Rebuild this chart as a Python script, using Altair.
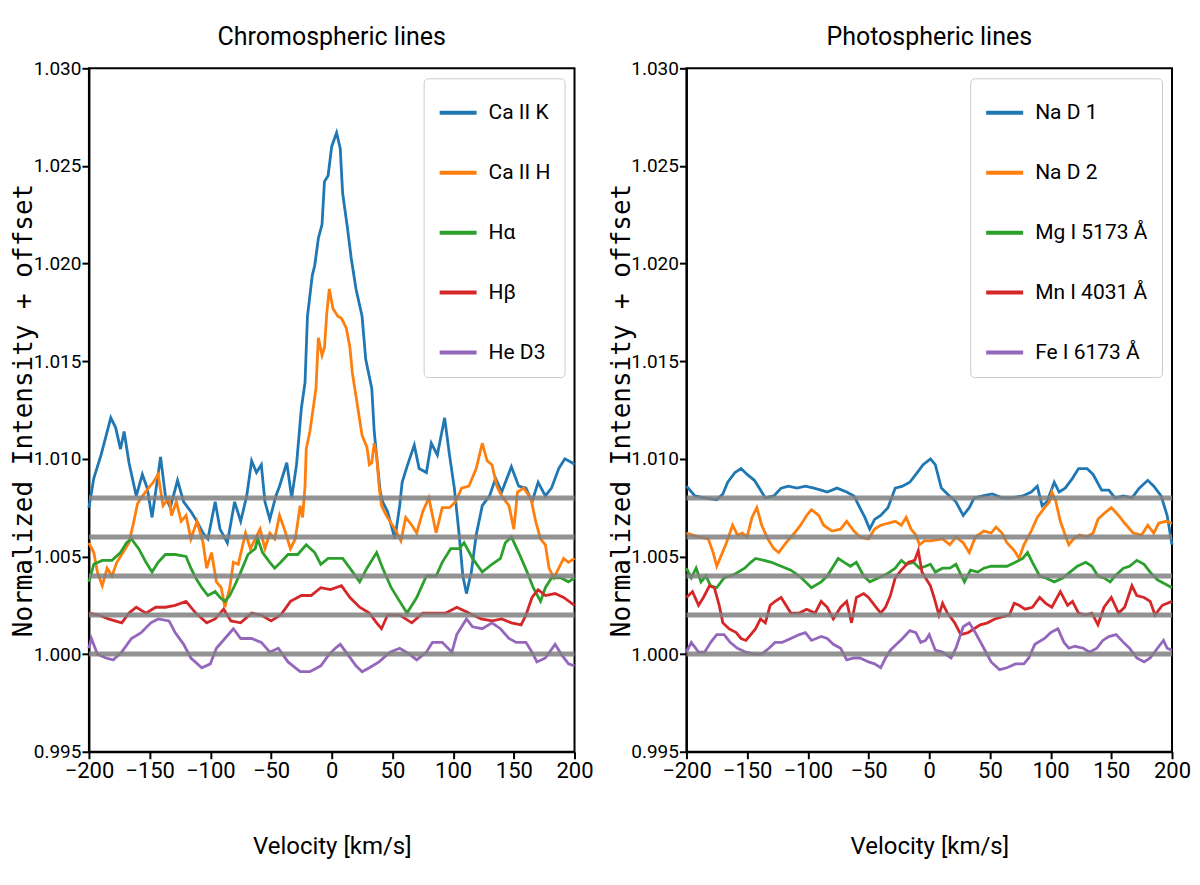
import altair as alt
import pandas as pd

TEXT_FONT = "Roboto, Liberation Sans, sans-serif"
YTITLE_FONT = "DejaVu Sans Mono, DejaVu Sans, monospace"

velocity_ticks = [-200, -150, -100, -50, 0, 50, 100, 150, 200]
intensity_ticks = [0.995, 1.000, 1.005, 1.010, 1.015, 1.020, 1.025, 1.030]
ref_levels = [1.000, 1.002, 1.004, 1.006, 1.008]
line_colors = ["#1f77b4", "#ff7f0e", "#2ca02c", "#d62728", "#9467bd"]

chromo_names = ["Ca II K", "Ca II H", "Hα", "Hβ", "He D3"]
photo_names = ["Na D 1", "Na D 2", "Mg I 5173 Å", "Mn I 4031 Å", "Fe I 6173 Å"]

# (velocity km/s, normalized intensity + offset)
ca_k = [(-200, 1.0075), (-196, 1.0090), (-190, 1.0102), (-182, 1.0121), (-178, 1.0116),
        (-174, 1.0105), (-171, 1.0114), (-167, 1.0098), (-161, 1.0081), (-156, 1.0092),
        (-152, 1.0085), (-148, 1.0070), (-141, 1.0101), (-137, 1.0081), (-133, 1.0075),
        (-127, 1.0089), (-122, 1.0078), (-116, 1.0073), (-111, 1.0068), (-106, 1.0062),
        (-102, 1.0059), (-96, 1.0078), (-92, 1.0064), (-86, 1.0057), (-80, 1.0078),
        (-75, 1.0068), (-70, 1.0081), (-66, 1.0099), (-62, 1.0093), (-58, 1.0097),
        (-55, 1.0078), (-51, 1.0069), (-46, 1.0081), (-43, 1.0086), (-37, 1.0098),
        (-33, 1.0080), (-29, 1.0097), (-25, 1.0126), (-22, 1.0139), (-20, 1.0173),
        (-16, 1.0194), (-14, 1.0199), (-11, 1.0213), (-8, 1.0220), (-6, 1.0242),
        (-3, 1.0245), (0, 1.0260), (4, 1.0267), (7, 1.0259), (9, 1.0236),
        (13, 1.0218), (16, 1.0203), (20, 1.0187), (25, 1.0173), (28, 1.0151),
        (33, 1.0136), (35, 1.0114), (38, 1.0095), (40, 1.0083), (42, 1.0078),
        (46, 1.0073), (52, 1.0059), (56, 1.0076), (58, 1.0088), (62, 1.0096),
        (68, 1.0107), (72, 1.0095), (78, 1.0093), (82, 1.0108), (87, 1.0102),
        (93, 1.0121), (97, 1.0102), (101, 1.0085), (105, 1.0061), (108, 1.0040),
        (111, 1.0031), (115, 1.0042), (119, 1.0061), (124, 1.0076), (130, 1.0081),
        (135, 1.0090), (140, 1.0083), (148, 1.0096), (154, 1.0086), (160, 1.0085),
        (165, 1.0078), (170, 1.0088), (176, 1.0081), (181, 1.0085), (187, 1.0095),
        (192, 1.0100), (198, 1.0098), (200, 1.0097)]

ca_h = [(-200, 1.0057), (-196, 1.0052), (-193, 1.0042), (-189, 1.0035), (-185, 1.0044),
        (-181, 1.0040), (-177, 1.0047), (-173, 1.0051), (-167, 1.0057), (-163, 1.0068),
        (-160, 1.0077), (-157, 1.0080), (-151, 1.0085), (-147, 1.0088), (-143, 1.0092),
        (-139, 1.0076), (-134, 1.0080), (-132, 1.0071), (-128, 1.0078), (-124, 1.0068),
        (-120, 1.0071), (-116, 1.0059), (-111, 1.0068), (-106, 1.0057), (-103, 1.0044),
        (-99, 1.0052), (-95, 1.0037), (-91, 1.0034), (-88, 1.0024), (-84, 1.0034),
        (-81, 1.0047), (-77, 1.0046), (-71, 1.0062), (-67, 1.0054), (-63, 1.0059),
        (-59, 1.0064), (-55, 1.0054), (-51, 1.0062), (-47, 1.0059), (-43, 1.0071),
        (-39, 1.0064), (-34, 1.0054), (-30, 1.0059), (-26, 1.0076), (-24, 1.0070),
        (-22, 1.0086), (-21, 1.0105), (-18, 1.0114), (-15, 1.0127), (-13, 1.0136),
        (-11, 1.0162), (-8, 1.0153), (-6, 1.0157), (-4, 1.0175), (-2, 1.0187),
        (1, 1.0177), (5, 1.0173), (8, 1.0172), (12, 1.0167), (15, 1.0157),
        (17, 1.0144), (20, 1.0132), (23, 1.0120), (25, 1.0112), (29, 1.0106),
        (31, 1.0097), (33, 1.0098), (35, 1.0108), (37, 1.0102), (39, 1.0086),
        (41, 1.0076), (45, 1.0071), (48, 1.0068), (50, 1.0066), (53, 1.0063),
        (57, 1.0058), (61, 1.0070), (66, 1.0066), (70, 1.0062), (75, 1.0073),
        (80, 1.0080), (86, 1.0062), (91, 1.0075), (97, 1.0075), (102, 1.0078),
        (107, 1.0085), (113, 1.0086), (119, 1.0095), (124, 1.0108), (128, 1.0099),
        (132, 1.0097), (136, 1.0086), (140, 1.0081), (146, 1.0076), (150, 1.0064),
        (153, 1.0083), (158, 1.0085), (164, 1.0080), (168, 1.0068), (172, 1.0059),
        (176, 1.0056), (179, 1.0044), (183, 1.0039), (187, 1.0044), (191, 1.0049),
        (195, 1.0047), (200, 1.0049)]

h_alpha = [(-200, 1.0037), (-196, 1.0046), (-189, 1.0048), (-181, 1.0048), (-174, 1.0052),
           (-169, 1.0057), (-165, 1.0059), (-159, 1.0054), (-153, 1.0047), (-148, 1.0042),
           (-143, 1.0047), (-137, 1.0051), (-129, 1.0051), (-120, 1.0050), (-116, 1.0044),
           (-112, 1.0039), (-107, 1.0034), (-102, 1.0030), (-96, 1.0032), (-92, 1.0029),
           (-88, 1.0027), (-84, 1.0030), (-80, 1.0035), (-75, 1.0042), (-69, 1.0051),
           (-63, 1.0054), (-61, 1.0059), (-57, 1.0052), (-51, 1.0047), (-47, 1.0044),
           (-42, 1.0047), (-36, 1.0051), (-28, 1.0051), (-21, 1.0056), (-14, 1.0052),
           (-9, 1.0046), (-3, 1.0049), (3, 1.0049), (9, 1.0049), (15, 1.0044),
           (23, 1.0037), (29, 1.0044), (37, 1.0052), (42, 1.0044), (49, 1.0034),
           (56, 1.0027), (62, 1.0021), (70, 1.0029), (78, 1.0040), (86, 1.0040),
           (91, 1.0047), (98, 1.0054), (105, 1.0054), (109, 1.0057), (116, 1.0049),
           (124, 1.0042), (132, 1.0046), (139, 1.0049), (143, 1.0057), (148, 1.0060),
           (154, 1.0052), (161, 1.0042), (166, 1.0034), (172, 1.0027), (176, 1.0034),
           (181, 1.0039), (189, 1.0039), (195, 1.0037), (200, 1.0039)]

h_beta = [(-200, 1.0021), (-192, 1.0020), (-184, 1.0018), (-173, 1.0016), (-167, 1.0021),
          (-161, 1.0024), (-153, 1.0021), (-145, 1.0024), (-137, 1.0024), (-129, 1.0025),
          (-120, 1.0027), (-112, 1.0021), (-103, 1.0016), (-96, 1.0018), (-89, 1.0023),
          (-83, 1.0017), (-75, 1.0016), (-66, 1.0021), (-58, 1.0020), (-50, 1.0017),
          (-42, 1.0020), (-34, 1.0027), (-25, 1.0030), (-17, 1.0030), (-9, 1.0034),
          (-1, 1.0033), (8, 1.0035), (15, 1.0029), (23, 1.0024), (31, 1.0021),
          (37, 1.0016), (41, 1.0013), (46, 1.0020), (56, 1.0020), (66, 1.0016),
          (75, 1.0021), (86, 1.0021), (94, 1.0021), (103, 1.0024), (113, 1.0021),
          (123, 1.0018), (132, 1.0017), (140, 1.0018), (148, 1.0016), (156, 1.0015),
          (160, 1.0020), (165, 1.0029), (170, 1.0033), (176, 1.0030), (184, 1.0031),
          (191, 1.0029), (200, 1.0025)]

he_d3 = [(-200, 1.0003), (-198, 1.0008), (-193, 1.0000), (-186, 0.9998), (-180, 0.9997),
         (-173, 1.0001), (-165, 1.0008), (-157, 1.0011), (-149, 1.0016), (-143, 1.0018),
         (-134, 1.0017), (-129, 1.0011), (-122, 1.0005), (-116, 0.9998), (-107, 0.9993),
         (-100, 0.9995), (-95, 1.0003), (-88, 1.0008), (-81, 1.0013), (-75, 1.0008),
         (-66, 1.0008), (-58, 1.0006), (-51, 1.0001), (-44, 1.0003), (-36, 0.9996),
         (-26, 0.9991), (-18, 0.9991), (-9, 0.9994), (-2, 1.0000), (3, 1.0003),
         (7, 1.0005), (13, 1.0000), (20, 0.9994), (25, 0.9991), (31, 0.9993),
         (39, 0.9996), (48, 1.0001), (56, 1.0003), (64, 1.0000), (70, 0.9997),
         (78, 1.0001), (83, 1.0006), (91, 1.0006), (99, 1.0001), (103, 1.0010),
         (111, 1.0018), (116, 1.0014), (124, 1.0013), (132, 1.0016), (139, 1.0013),
         (146, 1.0008), (152, 1.0006), (160, 1.0006), (165, 1.0001), (169, 0.9996),
         (176, 0.9998), (184, 1.0005), (189, 1.0000), (195, 0.9995), (200, 0.9994)]

na_d1 = [(-200, 1.0086), (-193, 1.0081), (-185, 1.0080), (-175, 1.0079), (-170, 1.0082),
         (-166, 1.0088), (-160, 1.0093), (-155, 1.0095), (-150, 1.0092), (-144, 1.0089),
         (-139, 1.0084), (-135, 1.0080), (-128, 1.0081), (-122, 1.0085), (-116, 1.0086),
         (-109, 1.0085), (-102, 1.0086), (-95, 1.0085), (-89, 1.0084), (-84, 1.0083),
         (-76, 1.0085), (-68, 1.0083), (-62, 1.0081), (-58, 1.0076), (-53, 1.0070),
         (-49, 1.0064), (-45, 1.0069), (-40, 1.0071), (-34, 1.0075), (-28, 1.0085),
         (-22, 1.0086), (-16, 1.0088), (-11, 1.0092), (-5, 1.0097), (1, 1.0100),
         (5, 1.0097), (10, 1.0085), (15, 1.0082), (22, 1.0078), (28, 1.0071),
         (33, 1.0075), (37, 1.0080), (44, 1.0081), (52, 1.0082), (60, 1.0080),
         (68, 1.0080), (77, 1.0081), (84, 1.0083), (89, 1.0086), (93, 1.0076),
         (97, 1.0078), (103, 1.0088), (107, 1.0083), (112, 1.0085), (118, 1.0090),
         (123, 1.0095), (130, 1.0095), (135, 1.0092), (142, 1.0084), (148, 1.0084),
         (153, 1.0080), (160, 1.0081), (167, 1.0080), (173, 1.0085), (180, 1.0089),
         (185, 1.0086), (191, 1.0081), (196, 1.0071), (200, 1.0056)]

na_d2 = [(-200, 1.0062), (-190, 1.0060), (-182, 1.0059), (-178, 1.0052), (-175, 1.0045),
         (-171, 1.0051), (-167, 1.0057), (-162, 1.0066), (-158, 1.0061), (-154, 1.0062),
         (-150, 1.0060), (-146, 1.0070), (-142, 1.0075), (-138, 1.0066), (-133, 1.0059),
         (-128, 1.0054), (-124, 1.0052), (-118, 1.0057), (-111, 1.0062), (-106, 1.0066),
         (-101, 1.0071), (-97, 1.0074), (-91, 1.0071), (-87, 1.0066), (-80, 1.0063),
         (-73, 1.0064), (-68, 1.0068), (-62, 1.0063), (-57, 1.0060), (-50, 1.0059),
         (-45, 1.0064), (-40, 1.0066), (-34, 1.0067), (-28, 1.0068), (-23, 1.0066),
         (-19, 1.0070), (-15, 1.0064), (-11, 1.0061), (-8, 1.0056), (-4, 1.0058),
         (1, 1.0058), (11, 1.0059), (17, 1.0056), (22, 1.0060), (28, 1.0057),
         (33, 1.0052), (38, 1.0060), (45, 1.0063), (51, 1.0062), (55, 1.0065),
         (60, 1.0062), (64, 1.0057), (70, 1.0053), (74, 1.0049), (78, 1.0056),
         (84, 1.0063), (89, 1.0070), (95, 1.0075), (99, 1.0078), (101, 1.0083),
         (104, 1.0079), (108, 1.0068), (112, 1.0061), (115, 1.0056), (119, 1.0059),
         (124, 1.0061), (130, 1.0060), (135, 1.0062), (139, 1.0069), (144, 1.0072),
         (150, 1.0075), (156, 1.0071), (161, 1.0067), (168, 1.0062), (175, 1.0061),
         (180, 1.0066), (185, 1.0062), (189, 1.0067), (195, 1.0068), (200, 1.0067)]

mg_5173 = [(-200, 1.0044), (-196, 1.0039), (-192, 1.0044), (-188, 1.0037), (-184, 1.0040),
           (-180, 1.0035), (-175, 1.0034), (-169, 1.0039), (-160, 1.0041), (-152, 1.0044),
           (-147, 1.0047), (-143, 1.0049), (-136, 1.0048), (-130, 1.0047), (-122, 1.0045),
           (-114, 1.0043), (-107, 1.0040), (-102, 1.0037), (-97, 1.0034), (-89, 1.0037),
           (-84, 1.0040), (-79, 1.0045), (-75, 1.0049), (-70, 1.0047), (-65, 1.0045),
           (-60, 1.0047), (-54, 1.0040), (-49, 1.0037), (-42, 1.0039), (-35, 1.0041),
           (-28, 1.0044), (-23, 1.0048), (-19, 1.0046), (-13, 1.0047), (-8, 1.0044),
           (-3, 1.0045), (1, 1.0046), (5, 1.0042), (11, 1.0044), (17, 1.0044),
           (22, 1.0046), (29, 1.0037), (34, 1.0043), (40, 1.0042), (45, 1.0044),
           (51, 1.0045), (58, 1.0045), (64, 1.0045), (71, 1.0047), (77, 1.0049),
           (81, 1.0052), (85, 1.0047), (91, 1.0040), (96, 1.0039), (103, 1.0037),
           (110, 1.0039), (116, 1.0042), (122, 1.0045), (129, 1.0047), (134, 1.0045),
           (139, 1.0040), (144, 1.0039), (149, 1.0037), (153, 1.0040), (160, 1.0044),
           (165, 1.0045), (171, 1.0048), (177, 1.0046), (182, 1.0042), (188, 1.0038),
           (194, 1.0036), (200, 1.0034)]

mn_4031 = [(-200, 1.0029), (-195, 1.0032), (-190, 1.0025), (-186, 1.0029), (-181, 1.0035),
           (-177, 1.0034), (-173, 1.0025), (-170, 1.0016), (-165, 1.0013), (-159, 1.0011),
           (-155, 1.0008), (-151, 1.0007), (-147, 1.0010), (-143, 1.0013), (-139, 1.0018),
           (-135, 1.0016), (-131, 1.0025), (-127, 1.0027), (-122, 1.0029), (-118, 1.0025),
           (-114, 1.0021), (-107, 1.0021), (-101, 1.0023), (-94, 1.0021), (-89, 1.0027),
           (-84, 1.0024), (-79, 1.0018), (-73, 1.0024), (-68, 1.0027), (-64, 1.0016),
           (-60, 1.0029), (-54, 1.0031), (-50, 1.0029), (-45, 1.0025), (-40, 1.0021),
           (-36, 1.0024), (-32, 1.0030), (-28, 1.0039), (-23, 1.0043), (-17, 1.0047),
           (-12, 1.0048), (-9, 1.0053), (-6, 1.0042), (-3, 1.0039), (1, 1.0035),
           (4, 1.0029), (8, 1.0020), (11, 1.0026), (15, 1.0021), (21, 1.0016),
           (26, 1.0010), (32, 1.0011), (37, 1.0013), (42, 1.0015), (48, 1.0016),
           (54, 1.0018), (60, 1.0019), (66, 1.0020), (70, 1.0026), (74, 1.0025),
           (79, 1.0023), (85, 1.0024), (91, 1.0029), (96, 1.0026), (101, 1.0024),
           (108, 1.0032), (114, 1.0025), (118, 1.0027), (123, 1.0021), (129, 1.0020),
           (134, 1.0021), (139, 1.0015), (144, 1.0024), (150, 1.0029), (156, 1.0021),
           (161, 1.0024), (167, 1.0035), (171, 1.0030), (177, 1.0029), (182, 1.0027),
           (186, 1.0020), (192, 1.0025), (200, 1.0027)]

fe_6173 = [(-200, 1.0001), (-196, 1.0006), (-190, 1.0001), (-185, 1.0001), (-180, 1.0006),
           (-175, 1.0010), (-169, 1.0010), (-164, 1.0006), (-158, 1.0003), (-151, 1.0001),
           (-144, 1.0000), (-138, 1.0000), (-132, 1.0003), (-127, 1.0006), (-121, 1.0006),
           (-114, 1.0008), (-107, 1.0010), (-102, 1.0011), (-97, 1.0007), (-89, 1.0009),
           (-84, 1.0008), (-79, 1.0005), (-73, 1.0003), (-68, 0.9997), (-62, 0.9998),
           (-57, 0.9998), (-50, 0.9996), (-45, 0.9995), (-40, 0.9993), (-36, 0.9998),
           (-32, 1.0002), (-27, 1.0005), (-22, 1.0008), (-16, 1.0012), (-11, 1.0011),
           (-7, 1.0006), (-3, 1.0007), (0, 1.0010), (5, 1.0002), (11, 1.0001),
           (18, 0.9998), (22, 1.0003), (28, 1.0014), (33, 1.0016), (38, 1.0011),
           (45, 1.0003), (51, 0.9996), (58, 0.9992), (64, 0.9993), (71, 0.9995),
           (78, 0.9995), (82, 0.9998), (87, 1.0005), (95, 1.0008), (100, 1.0011),
           (106, 1.0013), (111, 1.0006), (115, 1.0003), (120, 1.0004), (127, 1.0003),
           (132, 1.0001), (138, 1.0003), (143, 1.0007), (148, 1.0009), (154, 1.0010),
           (160, 1.0006), (165, 1.0003), (171, 0.9998), (177, 0.9996), (182, 0.9998),
           (188, 1.0003), (193, 1.0007), (196, 1.0003), (200, 1.0002)]


def make_table(names, series):
    rows = []
    for name, pts in zip(names, series):
        for v, y in pts:
            rows.append({"line": name, "velocity": v, "intensity": y})
    return pd.DataFrame(rows)


levels_df = pd.DataFrame({"intensity": ref_levels})


def panel(df, names, title):
    x = alt.X("velocity:Q", title="Velocity [km/s]",
              scale=alt.Scale(domain=[-200, 200], nice=False, zero=False),
              axis=alt.Axis(values=velocity_ticks, titlePadding=53, labelPadding=2,
                            labelOverlap=False, labelFlush=False))
    y = alt.Y("intensity:Q", title="Normalized Intensity + offset",
              scale=alt.Scale(domain=[0.995, 1.030], nice=False, zero=False),
              axis=alt.Axis(values=intensity_ticks, format=".3f", labelOverlap=False,
                            labelFontSize=19, labelPadding=1,
                            titleFont=YTITLE_FONT, titleFontSize=26, titleX=-52))
    lines = alt.Chart(df).mark_line(strokeWidth=2.8).encode(
        x=x,
        y=y,
        color=alt.Color("line:N", title=None,
                        scale=alt.Scale(domain=names, range=line_colors),
                        legend=alt.Legend(orient="top-right", offset=10, padding=14,
                                          fillColor="white", strokeColor="#cccccc",
                                          cornerRadius=4, labelFont=TEXT_FONT, labelFontSize=21,
                                          labelColor="black", symbolType="stroke",
                                          symbolStrokeWidth=4, symbolSize=1369,
                                          rowPadding=29, labelOffset=10)),
    )
    # grey offset baselines drawn over the spectra
    rules = alt.Chart(levels_df).mark_rule(color="gray", strokeWidth=5, opacity=0.85).encode(
        y="intensity:Q"
    )
    return (lines + rules).properties(
        width=486, height=684,
        title=alt.TitleParams(title, font=TEXT_FONT, fontSize=25, fontWeight="normal",
                              color="black", frame="group", offset=9),
    )


left = panel(make_table(chromo_names, [ca_k, ca_h, h_alpha, h_beta, he_d3]),
             chromo_names, "Chromospheric lines")
right = panel(make_table(photo_names, [na_d1, na_d2, mg_5173, mn_4031, fe_6173]),
              photo_names, "Photospheric lines")

chart = alt.hconcat(left, right, spacing=112, bounds="flush").resolve_scale(
    color="independent"
).resolve_legend(
    color="independent"
).properties(
    padding={"left": 2, "top": 16, "right": 0, "bottom": 0}
).configure_view(
    stroke="black", strokeWidth=2
).configure_axis(
    grid=False,
    domainColor="black", domainWidth=2,
    tickColor="black", tickWidth=2, tickSize=7,
    labelFont=TEXT_FONT, labelFontSize=22, labelColor="black",
    titleFont=TEXT_FONT, titleFontSize=24, titleFontWeight="normal", titleColor="black",
)

chart.save("out.html", embed_options={"renderer": "svg", "actions": False})
